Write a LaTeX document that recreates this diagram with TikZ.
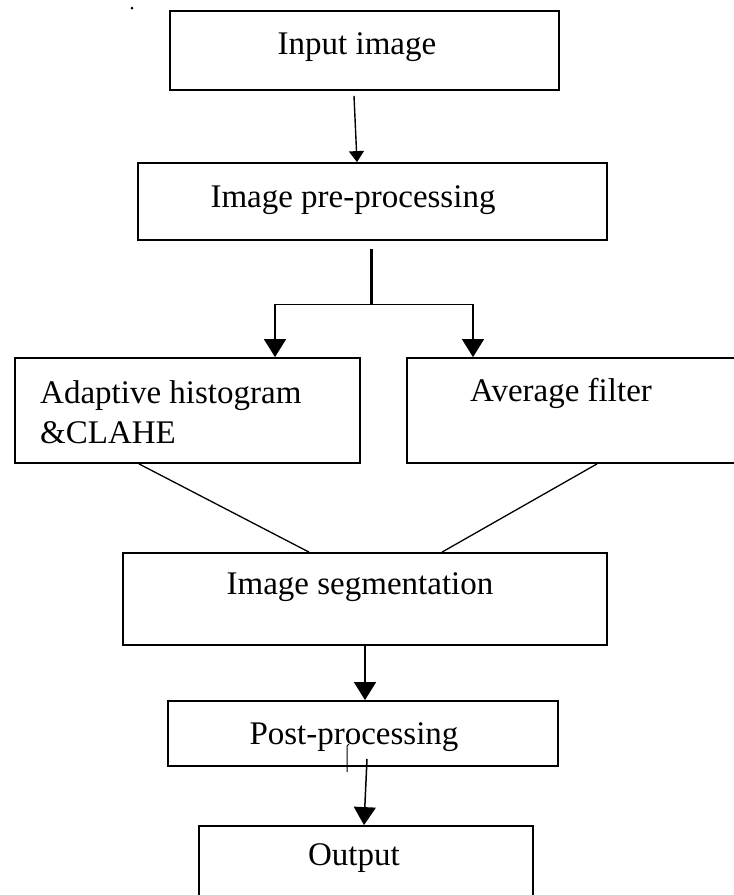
\documentclass[tikz,border=0pt]{standalone}
\usepackage{fontspec}
\setmainfont{Liberation Serif}
\usetikzlibrary{arrows.meta}

\tikzset{
  stagebox/.style={draw, line width=1.8pt, inner sep=0pt, rectangle},
  lbl/.style={inner sep=0pt, font=\fontsize{33}{40}\selectfont, align=left},
  flow/.style={line width=1.5pt, -{Triangle[width=22pt,length=18pt]}},
  flowsmall/.style={line width=1.4pt, -{Triangle[width=15pt,length=11pt]}},
  mergeline/.style={line width=1.3pt},
}

\begin{document}
\begin{tikzpicture}[x=1pt,y=-1pt]
  \clip (0,0) rectangle (734,895);
  \fill[white] (0,0) rectangle (734,895);

  % stage boxes
  \node[stagebox, minimum width=389pt, minimum height=79pt]  (in)   at (364.5,50.5) {};
  \node[stagebox, minimum width=469pt, minimum height=77pt]  (pre)  at (372.5,201.5) {};
  \node[stagebox, minimum width=345pt, minimum height=105pt] (ahe)  at (187.5,410.5) {};
  \node[stagebox, minimum width=338pt, minimum height=105pt] (avg)  at (576,410.5) {};
  \node[stagebox, minimum width=484pt, minimum height=92pt]  (seg)  at (365,599) {};
  \node[stagebox, minimum width=390pt, minimum height=65pt]  (post) at (363,733.5) {};
  \node[stagebox, minimum width=334pt, minimum height=79pt]  (out)  at (366,865.5) {};

  % labels
  \node[lbl] (tin)   at (357,47)  {Input image};
  \node[lbl] (tpre)  at (353,200) {Image pre-processing};
  \node[lbl, anchor=west] (tahe) at (40,412) {Adaptive histogram\\\&CLAHE};
  \node[lbl, anchor=west] (tavg) at (470,393) {Average filter};
  \node[lbl] (tseg)  at (360,587) {Image segmentation};
  \node[lbl] (tpost) at (354,737) {Post-processing};
  \node[lbl] (tout)  at (354,858) {Output};

  % connectors
  \draw[flowsmall] ([shift={(-10.5,5)}]in.south) -- ([shift={(-15.5,0)}]pre.north);

  \coordinate (fork) at (371,304.5);
  \draw[line width=3pt] ([shift={(-1.5,8)}]pre.south) -- (fork);
  \draw[flow] (fork) -| ([xshift=87.5pt]ahe.north);
  \draw[flow] (fork) -| ([xshift=-103pt]avg.north);

  \draw[mergeline] ([xshift=-48.5pt]ahe.south) -- ([xshift=-56pt]seg.north);
  \draw[mergeline] ([xshift=21pt]avg.south) -- ([xshift=77pt]seg.north);

  \draw[flow] (seg.south) -- ([xshift=2pt]post.north);
  \draw[flow] ([shift={(4,-8)}]post.south) -- ([xshift=-2pt]out.north);

  % small stray marks
  \draw[line width=1pt] (349,744) -- (347,746) -- (347,772);
  \fill (132,8) circle (1.5pt);
\end{tikzpicture}
\end{document}
